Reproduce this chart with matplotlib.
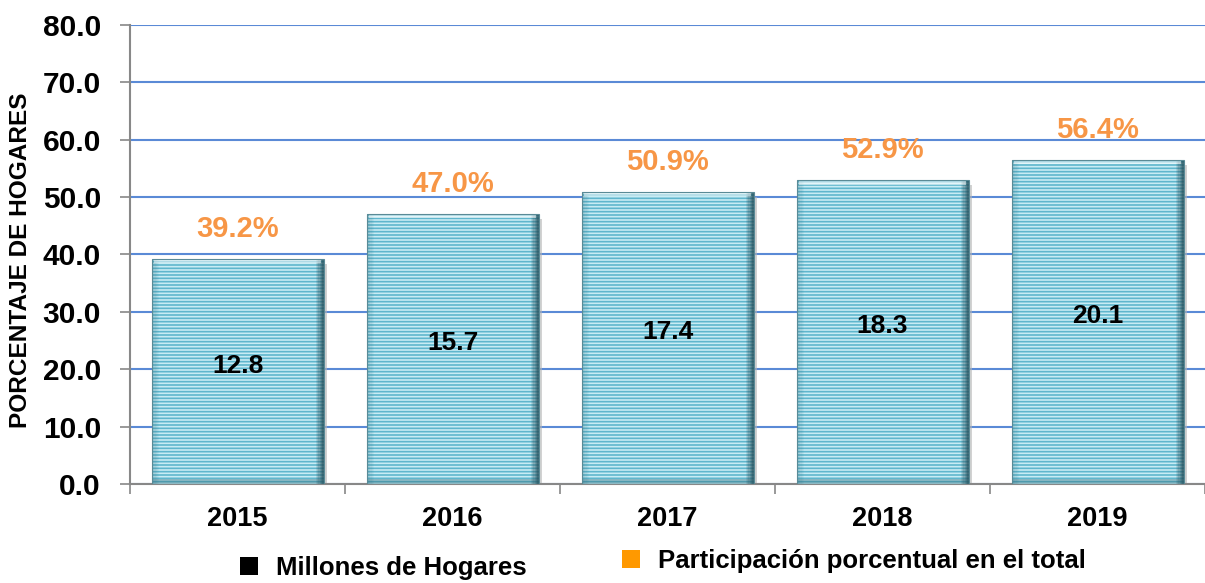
import numpy as np
import matplotlib.pyplot as plt
from matplotlib.patches import Patch

plt.rcParams['font.family'] = ['Liberation Sans', 'DejaVu Sans']
plt.rcParams['hatch.linewidth'] = 1.2

# data
years = ['2015', '2016', '2017', '2018', '2019']
pct_hogares = [39.2, 47.0, 50.9, 52.9, 56.4]
millones = [12.8, 15.7, 17.4, 18.3, 20.1]
yticks = [0, 10, 20, 30, 40, 50, 60, 70, 80]

orange = '#f79646'
stripe = '#5fb6cd'
face = '#c8ecf4'

fig = plt.figure(figsize=(12.05, 5.83), dpi=100)
ax = fig.add_axes([0.108, 0.170, 0.892, 0.787])

x = np.arange(len(years))
w = 0.80

# shadow
ax.bar(x + 0.015, pct_hogares, w, bottom=-0.8, color='#b5b5b5', alpha=0.6, zorder=2)
# striped body
ax.bar(x, pct_hogares, w, color=face, edgecolor=stripe, hatch='-----', linewidth=0, zorder=3)
# soft bevel on the sides (darker to the right)
for k in range(6):
    d = 0.006 * k
    ax.bar(x - w / 2 + d + 0.003, pct_hogares, 0.006, color='#3c7c8e',
           alpha=0.35 * (1 - k / 6), linewidth=0, zorder=4)
    ax.bar(x + w / 2 - d - 0.003, pct_hogares, 0.006, color='#24505c',
           alpha=0.8 * (1 - k / 6), linewidth=0, zorder=4)
ax.bar(x, 0.9, w, color='#2f6674', alpha=0.35, linewidth=0, zorder=4)
ax.bar(x, 0.7, w * 0.97, bottom=np.array(pct_hogares) - 0.7, color='white', alpha=0.5,
       linewidth=0, zorder=4)
ax.bar(x, pct_hogares, w, fill=False, edgecolor='#5a8a96', linewidth=0.8, zorder=5)

for xi, p, m in zip(x, pct_hogares, millones):
    ax.text(xi, p + 5.3, f'{p:.1f}%', ha='center', va='center', color=orange,
            fontsize=21, fontweight='bold', zorder=6)
    ax.text(xi, p / 2 + 1.0, f'{m:.1f}', ha='center', va='center', color='black',
            fontsize=19, fontweight='bold', zorder=6)

ax.set_ylim(0, 80)
ax.set_xlim(-0.5, len(years) - 0.5)
ax.set_yticks(yticks)
ax.set_yticklabels([f'{v:.1f}' for v in yticks], fontsize=21.5, fontweight='bold')
ax.yaxis.grid(True, color='#5a8ad6', linewidth=1.5)
ax.set_axisbelow(True)

ax.set_xticks(x)
ax.set_xticklabels(years, fontsize=19.5, fontweight='bold')
ax.tick_params(axis='x', length=0, pad=16)
ax.set_xticks(np.arange(-0.5, len(years)), minor=True)
ax.tick_params(axis='x', which='minor', length=7, color='#888888', width=1.2)
ax.tick_params(axis='y', length=7, color='#888888', width=1.2, pad=14)

for s in ['top', 'right']:
    ax.spines[s].set_visible(False)
for s in ['left', 'bottom']:
    ax.spines[s].set_color('#888888')
    ax.spines[s].set_linewidth(1.5)

ax.set_ylabel('PORCENTAJE DE HOGARES', fontsize=17.6, fontweight='bold')
ax.yaxis.set_label_coords(-0.091, 0.488)

leg_prop = {'size': 18.5, 'weight': 'bold'}
fig.legend([Patch(facecolor='black')], ['Millones de Hogares'], loc='center left',
           bbox_to_anchor=(0.180, 0.025), frameon=False, prop=leg_prop,
           handlelength=0.7, handleheight=0.7, handletextpad=0.7)
fig.legend([Patch(facecolor='#ff9900')], ['Participación porcentual en el total'],
           loc='center left', bbox_to_anchor=(0.497, 0.037), frameon=False, prop=leg_prop,
           handlelength=0.7, handleheight=0.7, handletextpad=0.7)

fig.savefig('out.png', dpi=100)
